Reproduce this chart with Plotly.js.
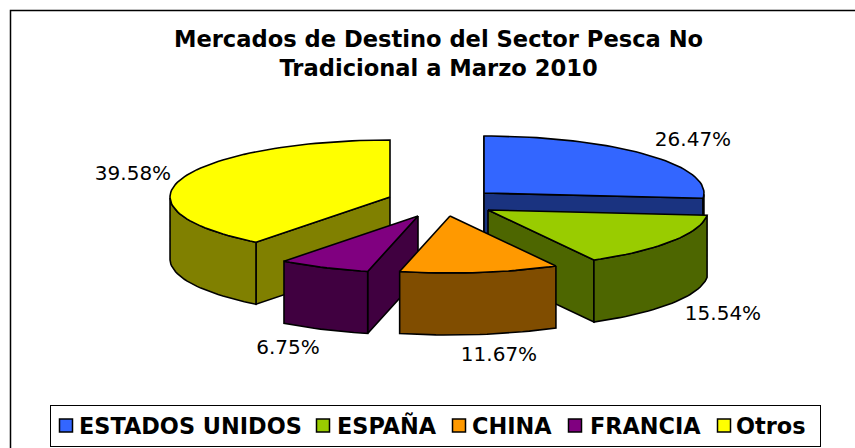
<!DOCTYPE html>
<html><head><meta charset="utf-8">
<script src="https://cdn.plot.ly/plotly-3.0.1.min.js"></script>
<style>html,body{margin:0;padding:0;background:#fff}#c{width:855px;height:448px}</style>
</head><body><div id="c"></div>
<script>
const categories = ["ESTADOS UNIDOS","ESPAÑA","CHINA","FRANCIA","Otros"];
const shares = [26.47,15.54,11.67,6.75,39.58];
const labels = ["26.47%","15.54%","11.67%","6.75%","39.58%"];
const topColors = ["#3366FF","#99CC00","#FF9900","#800080","#FFFF00"];
const sideColors = ["#1A3380","#4D6600","#804D00","#400040","#808000"];
const apexX = [484,488,450,418,390];
const apexY = [193,210,216,216,197];
const labelX = [693,723,499,288,133];
const labelY = [141,315,356,349,175];
const legendSwatchX = [66,323,459,575,724];
const legendTextX = [79,337,472,590,736];
const RX=220, RY=57, DEPTH=62;
const drawOrder=[0,1,4,3,2];
const traces=[];
const total=shares.reduce((a,b)=>a+b,0);
function rim(i,a0,a1){const p=[];const n=Math.max(2,Math.ceil((a1-a0)/2));
  for(let k=0;k<=n;k++){const a=(a0+(a1-a0)*k/n)*Math.PI/180;
    p.push([apexX[i]+RX*Math.sin(a),apexY[i]-RY*Math.cos(a),a0+(a1-a0)*k/n]);}
  return p;}
function poly(pts,fill){traces.push({type:'scatter',mode:'lines',x:pts.map(p=>p[0]),y:pts.map(p=>p[1]),
  fill:'toself',fillcolor:fill,line:{color:'#000',width:1.6},showlegend:false,hoverinfo:'skip'});}
const starts=[];let acc=0;shares.forEach(s=>{starts.push(acc);acc+=s/total*360;});
drawOrder.forEach(i=>{
  const a0=starts[i],a1=a0+shares[i]/total*360;
  const cx=apexX[i],cy=apexY[i];
  const down=p=>[p[0],p[1]+DEPTH];
  const r=rim(i,a0,a1),first=r[0],last=r[r.length-1];
  const cut=p=>[[cx,cy],p,down(p),[cx,cy+DEPTH],[cx,cy]];
  // only the faces turned towards the viewer are drawn
  if(Math.sin(a0*Math.PI/180)<=1e-9) poly(cut(first),sideColors[i]);
  if(Math.sin(a1*Math.PI/180)>1e-9) poly(cut(last),sideColors[i]);
  const front=r.filter(p=>p[2]>=90&&p[2]<=270);
  if(front.length>1) poly(front.concat(front.slice().reverse().map(down)).concat([front[0]]),sideColors[i]);
  poly([[cx,cy]].concat(r).concat([[cx,cy]]),topColors[i]);
});
categories.forEach((c,i)=>{traces.push({type:'scatter',mode:'markers',x:[null],y:[null],name:c,
  marker:{symbol:'square',size:13,color:topColors[i],line:{color:'#000',width:1.5}}});});
traces.push({type:'scatter',mode:'text',x:labelX,y:labelY,text:labels,textposition:'middle center',
  textfont:{family:'DejaVu Sans, Verdana, sans-serif',size:20,color:'#000'},showlegend:false,hoverinfo:'skip'});
const layout={width:855,height:448,margin:{l:0,r:0,t:0,b:0},paper_bgcolor:'#fff',plot_bgcolor:'#fff',
  xaxis:{range:[0,855],visible:false,fixedrange:true},
  yaxis:{range:[448,0],visible:false,fixedrange:true},
  title:{text:'<b>Mercados de Destino del Sector Pesca No<br>Tradicional a Marzo 2010</b>',
    font:{family:'DejaVu Sans, Verdana, sans-serif',size:22.6,color:'#000'},x:0.5129,xanchor:'center',y:0.896,yanchor:'top'},
  legend:{orientation:'h',x:0.5,y:0.004,font:{family:'DejaVu Sans, Verdana, sans-serif',size:22.4,color:'#000',weight:'bold'},
    bgcolor:'#fff',bordercolor:'#000',borderwidth:1.5,xanchor:'center',yanchor:'bottom',itemwidth:30},
  shapes:[{type:'rect',xref:'x',yref:'y',x0:10.5,x1:900,y0:10.5,y1:500,line:{color:'#000',width:1.5},fillcolor:'rgba(0,0,0,0)',layer:'below'}]};
Plotly.newPlot('c',traces,layout,{displayModeBar:false,staticPlot:true}).then(()=>{
  // tighten the native legend to the reference's box and item spacing
  const lg=document.querySelector('#c .legend');
  lg.setAttribute('transform','translate(49.5,404.5)');
  const bg=lg.querySelector('rect.bg');bg.setAttribute('width',770);bg.setAttribute('height',41);
  const sb=lg.querySelector('.scrollbox');sb.removeAttribute('clip-path');sb.setAttribute('transform','translate(0,0)');
  lg.querySelectorAll('.traces').forEach((g,i)=>{
    const txt=g.querySelector('text.legendtext');
    const pts=g.querySelector('.legendpoints');
    const host=document.getElementById('c').getBoundingClientRect();
    g.setAttribute('transform','translate(0,21)');
    const t=txt.getBoundingClientRect();
    txt.setAttribute('x',parseFloat(txt.getAttribute('x'))+legendTextX[i]-(t.left-host.left));
    const m=pts.querySelector('path').getBoundingClientRect();
    pts.setAttribute('transform','translate('+(legendSwatchX[i]-(m.left+m.width/2-host.left))+',0)');
  });
});
</script></body></html>
